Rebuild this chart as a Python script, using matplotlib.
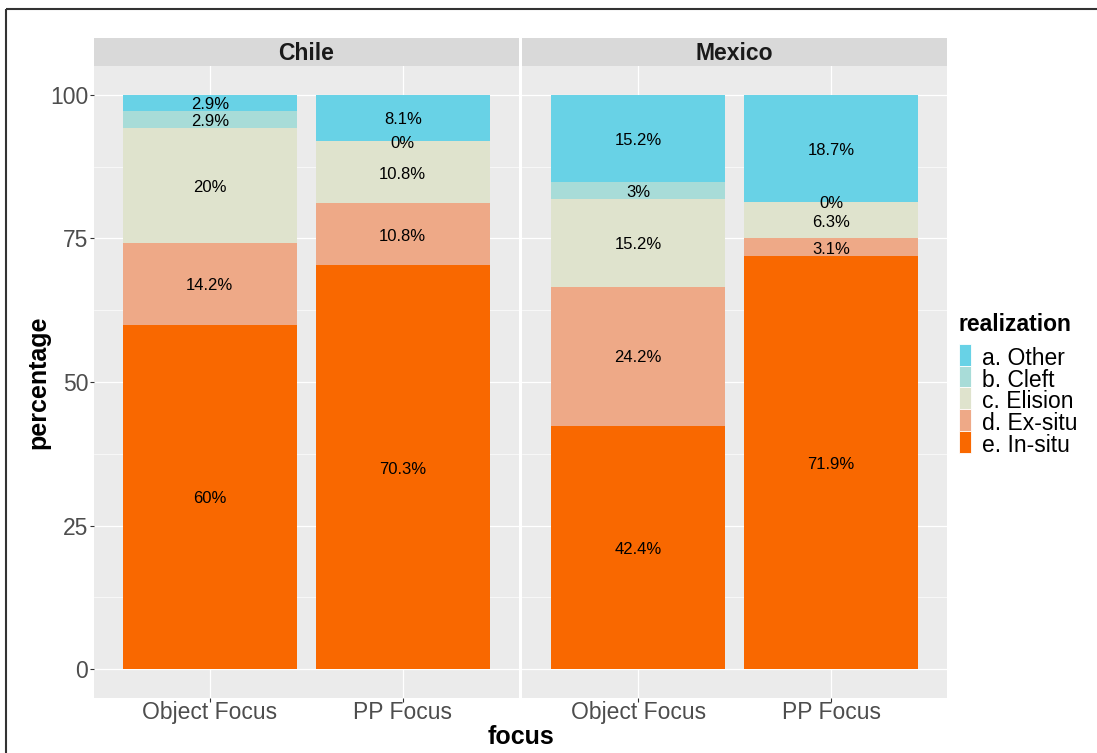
import matplotlib
matplotlib.use("Agg")
import matplotlib.pyplot as plt
from matplotlib.patches import Rectangle
from matplotlib.lines import Line2D
import numpy as np

plt.rcParams['font.family'] = ['Liberation Sans', 'DejaVu Sans']

countries = ["Chile", "Mexico"]
focus_levels = ["Object Focus", "PP Focus"]
realizations = ["e. In-situ", "d. Ex-situ", "c. Elision", "b. Cleft", "a. Other"]
colors = ["#F96800", "#EEA987", "#DFE3CD", "#A8DCD8", "#68D2E6"]

# values per country -> per focus level, order: In-situ, Ex-situ, Elision, Cleft, Other
chile_object = [60, 14.2, 20, 2.9, 2.9]
chile_pp = [70.3, 10.8, 10.8, 0, 8.1]
mexico_object = [42.4, 24.2, 15.2, 3, 15.2]
mexico_pp = [71.9, 3.1, 6.3, 0, 18.7]
data = {"Chile": [chile_object, chile_pp], "Mexico": [mexico_object, mexico_pp]}

W, H = 1097, 753
fig = plt.figure(figsize=(W / 100, H / 100), dpi=100)

def fx(px):
    return px / W

def fy(py):
    return 1 - py / H

panels = [(94, 518.6), (522.3, 947)]
ptop, pbot, stop = 66, 698, 38

axes = []
for i, country in enumerate(countries):
    x0, x1 = panels[i]
    ax = fig.add_axes([fx(x0), fy(pbot), fx(x1 - x0), (pbot - ptop) / H])
    ax.set_facecolor("#EBEBEB")
    ax.set_xlim(0.4, 2.6)
    ax.set_ylim(-5, 105)
    for s in ax.spines.values():
        s.set_visible(False)
    for yv in [12.5, 37.5, 62.5, 87.5]:
        ax.axhline(yv, color="white", lw=0.45, zorder=0)
    for yv in [0, 25, 50, 75, 100]:
        ax.axhline(yv, color="white", lw=0.9, zorder=0)
    for xv in [1, 2]:
        ax.axvline(xv, color="white", lw=0.9, zorder=0)
    xs = np.arange(1, len(focus_levels) + 1)
    for j, vals in enumerate(data[country]):
        bottom = 0
        for k, v in enumerate(vals):
            ax.bar(xs[j], v, bottom=bottom, width=0.9, color=colors[k], zorder=2)
            ax.annotate(f"{v:g}%", xy=(xs[j], bottom + v / 2), xytext=(0, -1.3),
                        textcoords="offset points", ha="center", va="center",
                        fontsize=12, color="black", zorder=3)
            bottom += v
    ax.set_xticks(xs)
    ax.set_xticklabels(focus_levels, fontsize=16.5, color="#4D4D4D")
    ax.tick_params(axis="x", length=2.6, width=0.8, color="#333333", pad=-0.6)
    if i == 0:
        ax.set_yticks([0, 25, 50, 75, 100])
        ax.set_yticklabels(["0", "25", "50", "75", "100"], fontsize=16.5, color="#4D4D4D")
        ax.tick_params(axis="y", length=2.6, width=0.8, color="#333333", pad=1.5)
    else:
        ax.set_yticks([])
    axes.append(ax)

    sax = fig.add_axes([fx(x0), fy(ptop), fx(x1 - x0), (ptop - stop) / H])
    sax.set_facecolor("#D9D9D9")
    sax.set_xticks([])
    sax.set_yticks([])
    for s in sax.spines.values():
        s.set_visible(False)
    fig.text(fx((x0 + x1) / 2), fy(60.5), country, ha="center", va="baseline",
             fontsize=16.5, fontweight="bold", color="#1A1A1A")

fig.text(fx(38), fy(382), "percentage", rotation=90, ha="center", va="center",
         fontsize=18, fontweight="bold")
fig.text(fx(520.5), fy(744), "focus", ha="center", va="baseline",
         fontsize=18, fontweight="bold")

# legend
fig.text(fx(959), fy(331), "realization", ha="left", va="baseline",
         fontsize=16.5, fontweight="bold")
legend_order = list(range(len(realizations)))[::-1]
key_top, key_h, key_w = 344, 21.7, 11.5
for n, k in enumerate(legend_order):
    ytop = key_top + n * key_h
    fig.patches.append(Rectangle((fx(959), fy(ytop + key_h)), key_w / W, key_h / H,
                                 transform=fig.transFigure, facecolor=colors[k],
                                 edgecolor="white", lw=0.6))
    fig.text(fx(982.5), fy(ytop + key_h / 2 + 10.2), realizations[k], ha="left",
             va="baseline", fontsize=16.5)

# outer border lines (top and left)
fig.lines.append(Line2D([fx(6), 1.0], [fy(9), fy(9)], transform=fig.transFigure,
                        color="#333333", lw=1.5, solid_capstyle="butt"))
fig.lines.append(Line2D([fx(6), fx(6)], [fy(9), 0], transform=fig.transFigure,
                        color="#333333", lw=1.5, solid_capstyle="butt"))

fig.savefig("out.png", dpi=100)
